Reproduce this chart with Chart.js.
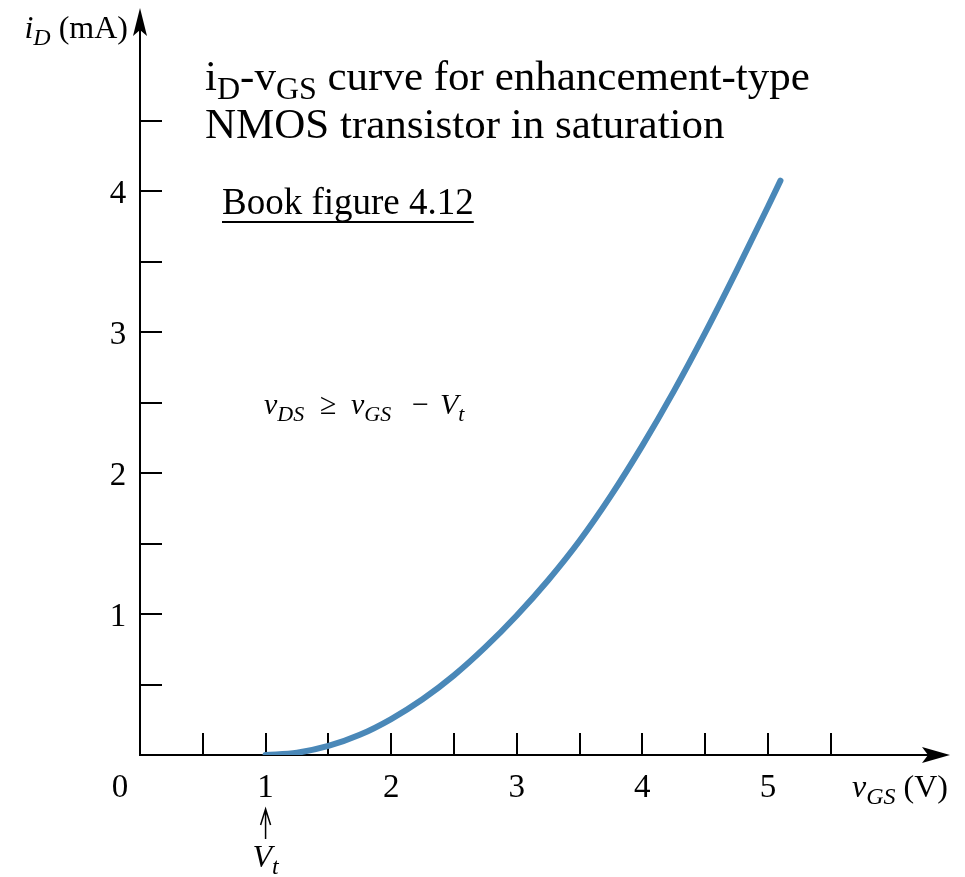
<!DOCTYPE html>
<html>
<head>
<meta charset="utf-8">
<script src="https://cdn.jsdelivr.net/npm/chart.js@4.4.1/dist/chart.umd.min.js"></script>
<style>
  html, body { margin: 0; padding: 0; background: #fff; }
  canvas { display: block; }
</style>
</head>
<body>
<canvas id="curva" width="965" height="877"></canvas>
<script>
// Datos
const vGS = [1.0, 1.25, 1.5, 1.75, 2.0, 2.25, 2.5, 2.75, 3.0, 3.25, 3.5, 3.75, 4.0, 4.25, 4.5, 4.75, 5.0, 5.1];
const iD  = [0, 0.016, 0.064, 0.143, 0.255, 0.395, 0.565, 0.765, 0.99, 1.24, 1.52, 1.84, 2.195, 2.58, 2.995, 3.435, 3.89, 4.075];

const xTickMarks = [0.5, 1, 1.5, 2, 2.5, 3, 3.5, 4, 4.5, 5, 5.5];
const yTickMarks = [0.5, 1, 1.5, 2, 2.5, 3, 3.5, 4, 4.5];
const xTickLabels = ['1', '2', '3', '4', '5'];
const yTickLabels = ['1', '2', '3', '4'];

const SERIF = '"Liberation Serif", "Times New Roman", serif';

// dibuja texto con subindices: runs = [{t, it, sub}]
function drawRuns(ctx, x, y, runs, size, align) {
    const font = r => (r.it ? 'italic ' : '') + Math.round(r.sub ? size * 0.74 : size) + 'px ' + SERIF;
    let total = 0;
    runs.forEach(r => { ctx.font = font(r); total += ctx.measureText(r.t).width; });
    let cx = x;
    if (align === 'center') cx = x - total / 2;
    if (align === 'right') cx = x - total;
    const start = cx;
    ctx.textAlign = 'left';
    ctx.textBaseline = 'alphabetic';
    runs.forEach(r => {
        ctx.font = font(r);
        ctx.fillText(r.t, cx, r.sub ? y + size * 0.22 : y);
        cx += ctx.measureText(r.t).width;
    });
    return { start: start, width: total };
}

const ejesPlugin = {
    id: 'ejes',
    beforeDatasetsDraw(chart) {
        const ctx = chart.ctx;
        const xs = chart.scales.x, ys = chart.scales.y;
        const x0 = xs.getPixelForValue(0), y0 = ys.getPixelForValue(0);
        const xEnd = chart.chartArea.right, yEnd = chart.chartArea.top;
        ctx.save();
        ctx.strokeStyle = '#000';
        ctx.fillStyle = '#000';
        ctx.lineWidth = 2;

        // ejes
        ctx.beginPath();
        ctx.moveTo(x0, y0); ctx.lineTo(xEnd - 10, y0);
        ctx.moveTo(x0, y0 + 1); ctx.lineTo(x0, yEnd + 10);
        ctx.stroke();

        // flechas
        ctx.beginPath();
        ctx.moveTo(xEnd, y0); ctx.lineTo(xEnd - 28, y0 - 8); ctx.lineTo(xEnd - 22, y0); ctx.lineTo(xEnd - 28, y0 + 8);
        ctx.closePath(); ctx.fill();
        ctx.beginPath();
        ctx.moveTo(x0, yEnd); ctx.lineTo(x0 - 7, yEnd + 28); ctx.lineTo(x0, yEnd + 22); ctx.lineTo(x0 + 7, yEnd + 28);
        ctx.closePath(); ctx.fill();

        // marcas
        ctx.beginPath();
        xTickMarks.forEach(v => {
            const px = Math.round(xs.getPixelForValue(v));
            ctx.moveTo(px, y0); ctx.lineTo(px, y0 - 22);
        });
        yTickMarks.forEach(v => {
            const py = Math.round(ys.getPixelForValue(v));
            ctx.moveTo(x0, py); ctx.lineTo(x0 + 22, py);
        });
        ctx.stroke();

        // etiquetas
        ctx.font = '33px ' + SERIF;
        ctx.textAlign = 'center';
        ctx.textBaseline = 'alphabetic';
        xTickLabels.forEach(l => ctx.fillText(l, xs.getPixelForValue(parseFloat(l)), y0 + 42));
        ctx.fillText('0', x0 - 20, y0 + 42);
        yTickLabels.forEach(l => ctx.fillText(l, x0 - 22, ys.getPixelForValue(parseFloat(l)) + 12));

        // titulos de ejes
        drawRuns(ctx, x0 - 12, 38, [{ t: 'i', it: true }, { t: 'D', it: true, sub: true }, { t: ' (mA)' }], 32, 'right');
        drawRuns(ctx, xEnd - 2, y0 + 42, [{ t: 'v', it: true }, { t: 'GS', it: true, sub: true }, { t: ' (V)' }], 32, 'right');

        // V_t
        const xv = xs.getPixelForValue(1);
        ctx.lineWidth = 1.5;
        ctx.beginPath();
        ctx.moveTo(xv, y0 + 84); ctx.lineTo(xv, y0 + 54);
        ctx.moveTo(xv - 5, y0 + 70); ctx.lineTo(xv, y0 + 54); ctx.lineTo(xv + 5, y0 + 70);
        ctx.stroke();
        drawRuns(ctx, xv, y0 + 112, [{ t: 'V', it: true }, { t: 't', it: true, sub: true }], 32, 'center');

        // textos del grafico
        drawRuns(ctx, 205, 90, [{ t: 'i' }, { t: 'D', sub: true }, { t: '-v' }, { t: 'GS', sub: true }, { t: ' curve for enhancement-type' }], 43, 'left');
        drawRuns(ctx, 205, 138, [{ t: 'NMOS transistor in saturation' }], 43, 'left');
        const b = drawRuns(ctx, 222, 214, [{ t: 'Book figure 4.12' }], 37, 'left');
        ctx.lineWidth = 2;
        ctx.beginPath();
        ctx.moveTo(b.start, 222); ctx.lineTo(b.start + b.width, 222);
        ctx.stroke();

        // condicion de saturacion
        drawRuns(ctx, 264, 414, [{ t: 'v', it: true }, { t: 'DS', it: true, sub: true }], 30, 'left');
        drawRuns(ctx, 320, 414, [{ t: '\u2265' }], 30, 'left');
        drawRuns(ctx, 351, 414, [{ t: 'v', it: true }, { t: 'GS', it: true, sub: true }], 30, 'left');
        drawRuns(ctx, 412, 414, [{ t: '\u2212' }], 30, 'left');
        drawRuns(ctx, 440, 414, [{ t: 'V', it: true }, { t: 't', it: true, sub: true }], 30, 'left');

        ctx.restore();
    }
};

new Chart(document.getElementById('curva'), {
    type: 'scatter',
    data: {
        datasets: [{
            data: vGS.map((v, i) => ({ x: v, y: iD[i] })),
            showLine: true,
            borderColor: '#4a88b8',
            borderWidth: 6,
            borderCapStyle: 'round',
            cubicInterpolationMode: 'monotone',
            pointRadius: 0,
            fill: false
        }]
    },
    options: {
        responsive: false,
        animation: false,
        layout: { padding: { left: 140, right: 15, top: 8, bottom: 122 } },
        plugins: { legend: { display: false }, tooltip: { enabled: false } },
        scales: {
            x: { type: 'linear', min: 0, max: 6.45, display: false },
            y: { min: 0, max: 5.3, display: false }
        }
    },
    plugins: [ejesPlugin]
});
</script>
</body>
</html>
